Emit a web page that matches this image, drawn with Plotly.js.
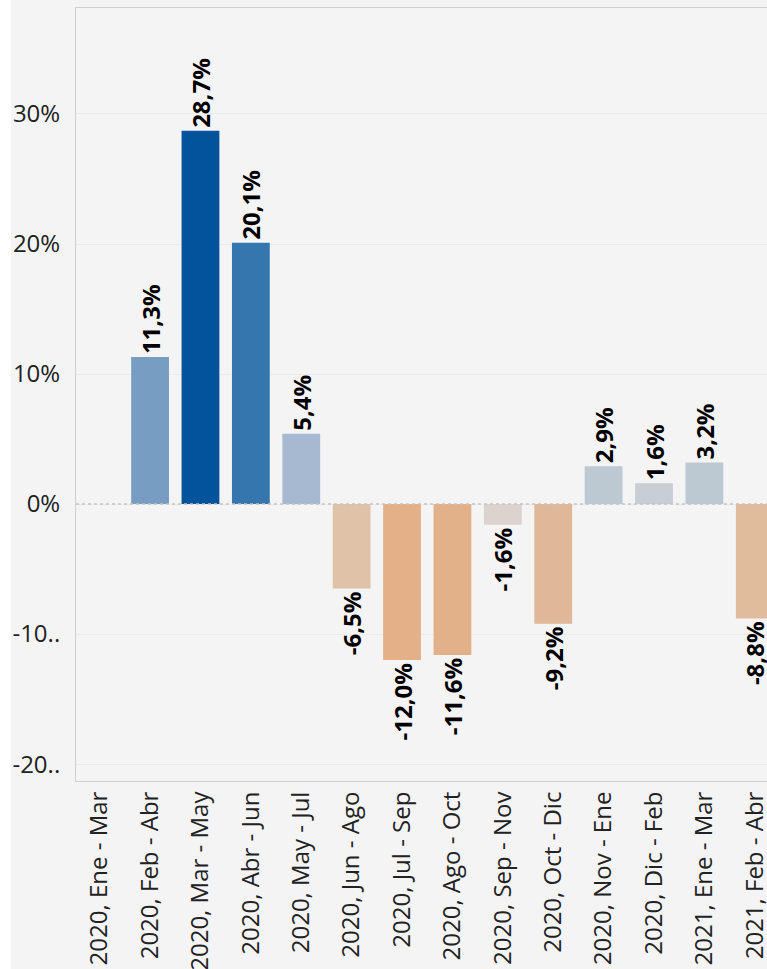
<!DOCTYPE html>
<html>
<head>
<meta charset="utf-8">
<script src="https://cdn.plot.ly/plotly-3.0.1.min.js"></script>
<style>
  html, body { margin: 0; padding: 0; background: #ffffff; overflow: hidden; }
  #chart { position: absolute; left: 11px; top: 0; width: 800px; height: 1000px; }
</style>
</head>
<body>
<div id="chart"></div>
<script>
/** Variación por periodo */

  // Data
  var periods = [
    "2020, Ene - Mar", "2020, Feb - Abr", "2020, Mar - May", "2020, Abr - Jun",
    "2020, May - Jul", "2020, Jun - Ago", "2020, Jul - Sep", "2020, Ago - Oct",
    "2020, Sep - Nov", "2020, Oct - Dic", "2020, Nov - Ene", "2020, Dic - Feb",
    "2021, Ene - Mar", "2021, Feb - Abr"
  ];
  var change = [null, 11.3, 28.7, 20.1, 5.4, -6.5, -12.0, -11.6, -1.6, -9.2, 2.9, 1.6, 3.2, -8.8];
  var barColors = [
    "#cccccc", "#779dc3", "#02529c", "#3676ae", "#a7b9d0", "#dfc2a8", "#e3b088",
    "#e3b189", "#dcd3ce", "#e0b897", "#bcc8d2", "#c9cdd4", "#bcc9d3", "#e0bc9c"
  ];
  var yTickVals = [30, 20, 10, 0, -10, -20];
  var yTickText = ["30%", "20%", "10%", "0%", "-10..", "-20.."];

  var labels = [];
  for (let i in change){
    let v = change[i];
    labels.push(v === null ? "" : v.toFixed(1).replace(".", ",") + "%");
  }

  var font = "'Open Sans', 'Noto Sans', sans-serif";

  const chartdata = [
    {
      type: "bar",
      x: periods,
      y: change,
      width: 0.75,
      marker: { color: barColors },
      text: labels,
      textposition: "outside",
      textangle: -90,
      constraintext: "none",
      cliponaxis: false,
      textfont: { family: font, size: 24, color: "#000000", weight: "bold" },
      hoverinfo: "x+text"
    }
  ];

  const layout = {
    width: 800,
    height: 1000,
    paper_bgcolor: "#f4f4f4",
    plot_bgcolor: "#f4f4f4",
    margin: { l: 65, r: 31, t: 8, b: 219 },
    showlegend: false,
    font: { family: font, size: 24, color: "#222222" },
    xaxis: {
      type: "category",
      range: [-0.47, 13.5],
      tickangle: -90,
      showgrid: false,
      showline: true,
      linecolor: "#d0d0d0",
      linewidth: 1,
      mirror: true,
      ticks: "",
      tickfont: { family: font, size: 24, color: "#222222" }
    },
    yaxis: {
      range: [-21.3, 38.15],
      tickvals: yTickVals,
      ticktext: yTickText,
      showgrid: true,
      gridcolor: "#ebebeb",
      gridwidth: 1,
      zeroline: false,
      showline: true,
      linecolor: "#d0d0d0",
      linewidth: 1,
      ticks: "",
      ticklen: 0,
      ticklabelstandoff: 10,
      tickfont: { family: font, size: 24, color: "#222222" }
    },
    shapes: [
      {
        type: "line", xref: "paper", yref: "y",
        x0: 0, x1: 1, y0: 0, y1: 0,
        line: { color: "#c4c4c4", width: 1.5, dash: "dot" },
        layer: "above"
      }
    ]
  };

  const config = { displaylogo: false, staticPlot: true };

  Plotly.newPlot("chart", chartdata, layout, config);
</script>
</body>
</html>
